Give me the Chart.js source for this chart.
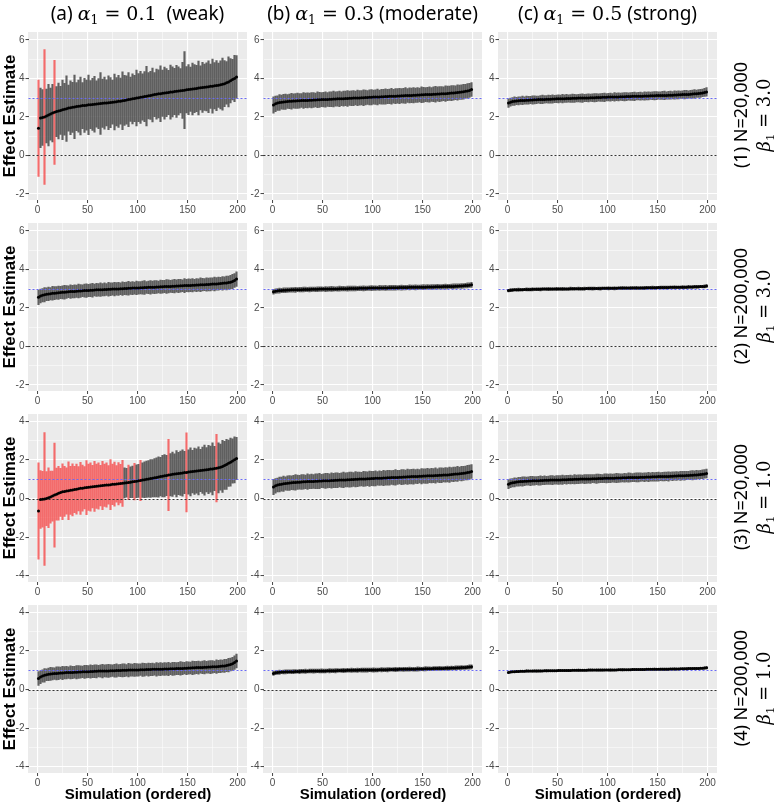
<!DOCTYPE html>
<html>
<head>
<meta charset="utf-8">
<script src="https://cdn.jsdelivr.net/npm/chart.js@4.4.1/dist/chart.umd.min.js"></script>
<style>
  body { margin: 0; background: #fff; width: 778px; height: 804px; position: relative; overflow: hidden; }
  canvas { position: absolute; }
  .colTitle { position: absolute; top: 0; height: 26px; line-height: 26px; text-align: center; font-family: "Noto Sans", sans-serif; font-size: 19px; color: #000; white-space: pre; }
  .math { font-family: "DejaVu Serif", serif; font-style: italic; }
  .num { font-family: "DejaVu Serif", serif; }
  sub { font-size: 0.65em; vertical-align: -0.3em; }
  .strip { position: absolute; width: 180px; height: 48px; text-align: center; font-family: "Noto Sans", sans-serif; font-size: 18px; line-height: 23px; color: #000; transform: rotate(-90deg); white-space: pre; }
</style>
</head>
<body>
<script>
// simulation index (every other simulation of the 200, ordered by estimate)
const simIdx = [1,3,5,7,9,11,13,15,17,19,21,23,25,27,29,31,33,35,37,39,41,43,45,47,49,51,53,55,57,59,61,63,65,67,69,71,73,75,77,79,81,83,85,87,89,91,93,95,97,99,101,103,105,107,109,111,113,115,117,119,121,123,125,127,129,131,133,135,137,139,141,143,145,147,149,151,153,155,157,159,161,163,165,167,169,171,173,175,177,179,181,183,185,187,189,191,193,195,197,199];

// facet labels
const colLetters = ['(a)', '(b)', '(c)'];
const alphaVals = ['0.1', '0.3', '0.5'];
const alphaWords = [' (weak)', '(moderate)', '(strong)'];
const sampleSizes = ['20,000', '200,000', '20,000', '200,000'];
const betaVals = ['3.0', '3.0', '1.0', '1.0'];
const truthVals = [3, 3, 1, 1];

// row 1: N=20,000, beta=3
const a1Est = [1.42,1.95,1.97,2.00,2.05,2.10,2.15,2.20,2.24,2.28,2.31,2.34,2.37,2.40,2.43,2.46,2.48,2.50,2.52,2.54,2.56,2.57,2.59,2.60,2.61,2.63,2.64,2.65,2.66,2.67,2.69,2.70,2.71,2.72,2.73,2.74,2.75,2.77,2.78,2.79,2.81,2.82,2.84,2.86,2.88,2.90,2.92,2.94,2.96,2.98,3.00,3.02,3.04,3.06,3.08,3.10,3.12,3.14,3.16,3.18,3.20,3.21,3.23,3.24,3.26,3.27,3.29,3.30,3.32,3.33,3.35,3.36,3.38,3.39,3.41,3.42,3.44,3.45,3.47,3.48,3.50,3.51,3.53,3.54,3.56,3.57,3.59,3.60,3.62,3.63,3.65,3.67,3.70,3.73,3.77,3.82,3.88,3.94,4.00,4.08];
const a1Hw = [2.50,1.55,1.45,3.50,1.40,1.60,1.35,1.50,2.70,1.30,1.45,1.25,1.55,1.35,1.70,1.20,1.40,1.30,1.65,1.25,1.35,1.50,1.20,1.40,1.30,1.55,1.25,1.35,1.45,1.20,1.30,1.60,1.25,1.35,1.20,1.40,1.30,1.15,1.45,1.25,1.35,1.20,1.50,1.30,1.25,1.40,1.15,1.30,1.20,1.45,1.25,1.35,1.20,1.30,1.55,1.20,1.25,1.40,1.15,1.30,1.25,1.45,1.20,1.35,1.25,1.15,1.40,1.30,1.20,1.35,1.25,1.15,1.45,2.00,1.20,1.30,1.15,1.35,1.25,1.20,1.40,1.15,1.30,1.20,1.25,1.35,1.15,1.40,1.20,1.30,1.15,1.25,1.35,1.20,1.10,1.30,1.15,1.05,1.20,1.10];
const b1Est = [2.62,2.68,2.72,2.75,2.77,2.78,2.79,2.80,2.81,2.82,2.83,2.83,2.84,2.84,2.85,2.85,2.86,2.86,2.87,2.87,2.88,2.88,2.89,2.89,2.90,2.90,2.91,2.91,2.92,2.92,2.93,2.93,2.94,2.94,2.95,2.95,2.96,2.96,2.97,2.97,2.98,2.98,2.99,2.99,3.00,3.00,3.01,3.01,3.02,3.02,3.03,3.03,3.04,3.04,3.05,3.05,3.06,3.06,3.07,3.07,3.08,3.08,3.09,3.09,3.10,3.10,3.11,3.11,3.12,3.12,3.13,3.13,3.14,3.14,3.15,3.15,3.16,3.16,3.17,3.17,3.18,3.18,3.19,3.19,3.20,3.20,3.21,3.22,3.23,3.24,3.25,3.26,3.27,3.28,3.29,3.31,3.33,3.35,3.38,3.43];
const b1Hw = [0.42,0.40,0.38,0.41,0.37,0.39,0.40,0.36,0.38,0.41,0.37,0.39,0.40,0.38,0.36,0.41,0.38,0.39,0.37,0.40,0.38,0.36,0.41,0.39,0.37,0.38,0.40,0.36,0.39,0.38,0.41,0.37,0.38,0.40,0.36,0.39,0.38,0.41,0.37,0.38,0.39,0.36,0.40,0.38,0.37,0.41,0.38,0.36,0.39,0.40,0.37,0.38,0.41,0.36,0.39,0.38,0.40,0.37,0.38,0.41,0.36,0.39,0.38,0.40,0.37,0.38,0.41,0.36,0.39,0.38,0.40,0.37,0.38,0.36,0.41,0.39,0.37,0.38,0.40,0.36,0.38,0.41,0.37,0.39,0.38,0.36,0.40,0.38,0.37,0.39,0.38,0.36,0.40,0.37,0.38,0.39,0.36,0.38,0.37,0.36];
const c1Est = [2.72,2.77,2.80,2.82,2.83,2.84,2.85,2.86,2.86,2.87,2.87,2.88,2.88,2.89,2.89,2.90,2.90,2.91,2.91,2.92,2.92,2.92,2.93,2.93,2.94,2.94,2.94,2.95,2.95,2.96,2.96,2.96,2.97,2.97,2.97,2.98,2.98,2.98,2.99,2.99,2.99,3.00,3.00,3.00,3.01,3.01,3.01,3.02,3.02,3.02,3.03,3.03,3.03,3.04,3.04,3.04,3.05,3.05,3.05,3.06,3.06,3.06,3.07,3.07,3.07,3.08,3.08,3.08,3.09,3.09,3.09,3.10,3.10,3.10,3.11,3.11,3.11,3.12,3.12,3.12,3.13,3.13,3.13,3.14,3.14,3.15,3.15,3.16,3.16,3.17,3.17,3.18,3.19,3.20,3.21,3.22,3.23,3.25,3.27,3.30];
const c1Hw = [0.22,0.21,0.20,0.22,0.19,0.21,0.20,0.22,0.19,0.21,0.20,0.19,0.22,0.21,0.20,0.19,0.21,0.22,0.20,0.19,0.21,0.20,0.22,0.19,0.20,0.21,0.19,0.22,0.20,0.21,0.19,0.20,0.22,0.21,0.19,0.20,0.21,0.22,0.19,0.20,0.21,0.19,0.20,0.22,0.21,0.19,0.20,0.21,0.22,0.19,0.20,0.21,0.19,0.22,0.20,0.21,0.19,0.20,0.22,0.21,0.19,0.20,0.21,0.22,0.19,0.20,0.21,0.19,0.22,0.20,0.21,0.19,0.20,0.22,0.21,0.19,0.20,0.21,0.22,0.19,0.20,0.21,0.19,0.22,0.20,0.21,0.19,0.20,0.22,0.21,0.19,0.20,0.21,0.22,0.19,0.20,0.21,0.20,0.21,0.22];

// row 2: N=200,000, beta=3
const a2Est = [2.55,2.62,2.66,2.69,2.71,2.73,2.74,2.76,2.77,2.78,2.79,2.80,2.81,2.82,2.83,2.84,2.85,2.85,2.86,2.87,2.88,2.88,2.89,2.90,2.90,2.91,2.92,2.92,2.93,2.94,2.94,2.95,2.95,2.96,2.96,2.97,2.97,2.98,2.98,2.99,2.99,3.00,3.00,3.01,3.01,3.02,3.02,3.03,3.03,3.04,3.04,3.05,3.05,3.06,3.06,3.07,3.07,3.08,3.08,3.09,3.09,3.10,3.10,3.11,3.11,3.12,3.12,3.13,3.13,3.14,3.14,3.15,3.15,3.16,3.16,3.17,3.17,3.18,3.18,3.19,3.19,3.20,3.21,3.21,3.22,3.22,3.23,3.24,3.24,3.25,3.26,3.27,3.28,3.29,3.30,3.32,3.34,3.37,3.42,3.50];
const a2Hw = [0.38,0.36,0.34,0.37,0.33,0.35,0.32,0.36,0.34,0.33,0.35,0.32,0.34,0.36,0.33,0.31,0.35,0.33,0.34,0.32,0.36,0.33,0.31,0.34,0.35,0.32,0.33,0.36,0.31,0.34,0.33,0.35,0.32,0.34,0.31,0.36,0.33,0.32,0.35,0.33,0.34,0.31,0.35,0.32,0.33,0.36,0.32,0.34,0.31,0.35,0.33,0.32,0.34,0.36,0.31,0.33,0.35,0.32,0.34,0.33,0.31,0.35,0.33,0.32,0.36,0.34,0.31,0.33,0.35,0.32,0.34,0.33,0.31,0.36,0.32,0.34,0.33,0.35,0.31,0.34,0.32,0.36,0.33,0.31,0.35,0.33,0.34,0.32,0.36,0.33,0.34,0.32,0.35,0.33,0.36,0.34,0.35,0.37,0.36,0.38];
const b2Est = [2.84,2.87,2.89,2.90,2.91,2.92,2.92,2.93,2.93,2.94,2.94,2.94,2.95,2.95,2.95,2.96,2.96,2.96,2.96,2.97,2.97,2.97,2.97,2.98,2.98,2.98,2.98,2.98,2.99,2.99,2.99,2.99,2.99,3.00,3.00,3.00,3.00,3.00,3.01,3.01,3.01,3.01,3.01,3.02,3.02,3.02,3.02,3.02,3.03,3.03,3.03,3.03,3.03,3.04,3.04,3.04,3.04,3.04,3.05,3.05,3.05,3.05,3.05,3.06,3.06,3.06,3.06,3.06,3.07,3.07,3.07,3.07,3.07,3.08,3.08,3.08,3.08,3.09,3.09,3.09,3.09,3.10,3.10,3.10,3.10,3.11,3.11,3.11,3.12,3.12,3.12,3.13,3.13,3.14,3.14,3.15,3.16,3.17,3.18,3.20];
const b2Hw = [0.13,0.12,0.12,0.13,0.11,0.12,0.13,0.12,0.11,0.12,0.12,0.13,0.11,0.12,0.12,0.13,0.12,0.11,0.13,0.12,0.11,0.12,0.13,0.12,0.12,0.11,0.13,0.12,0.12,0.13,0.12,0.11,0.12,0.13,0.12,0.12,0.11,0.13,0.12,0.12,0.13,0.12,0.11,0.12,0.12,0.13,0.12,0.11,0.12,0.13,0.12,0.12,0.11,0.13,0.12,0.12,0.13,0.11,0.12,0.12,0.13,0.12,0.11,0.12,0.13,0.12,0.12,0.11,0.13,0.12,0.12,0.13,0.12,0.11,0.12,0.13,0.12,0.12,0.11,0.13,0.12,0.12,0.13,0.11,0.12,0.12,0.13,0.12,0.11,0.12,0.13,0.12,0.12,0.11,0.13,0.12,0.12,0.13,0.12,0.13];
const c2Est = [2.90,2.92,2.93,2.94,2.94,2.95,2.95,2.95,2.96,2.96,2.96,2.96,2.97,2.97,2.97,2.97,2.97,2.98,2.98,2.98,2.98,2.98,2.98,2.98,2.99,2.99,2.99,2.99,2.99,2.99,2.99,3.00,3.00,3.00,3.00,3.00,3.00,3.00,3.00,3.01,3.01,3.01,3.01,3.01,3.01,3.01,3.01,3.02,3.02,3.02,3.02,3.02,3.02,3.02,3.02,3.03,3.03,3.03,3.03,3.03,3.03,3.03,3.04,3.04,3.04,3.04,3.04,3.04,3.04,3.05,3.05,3.05,3.05,3.05,3.05,3.06,3.06,3.06,3.06,3.06,3.06,3.07,3.07,3.07,3.07,3.07,3.08,3.08,3.08,3.08,3.09,3.09,3.09,3.10,3.10,3.10,3.11,3.11,3.12,3.14];
const c2Hw = [0.07,0.08,0.07,0.06,0.07,0.08,0.07,0.07,0.06,0.08,0.07,0.07,0.08,0.06,0.07,0.07,0.08,0.07,0.06,0.07,0.08,0.07,0.07,0.06,0.08,0.07,0.07,0.08,0.07,0.06,0.07,0.08,0.07,0.07,0.06,0.08,0.07,0.07,0.08,0.06,0.07,0.07,0.08,0.07,0.06,0.07,0.08,0.07,0.07,0.06,0.08,0.07,0.07,0.08,0.07,0.06,0.07,0.08,0.07,0.07,0.06,0.08,0.07,0.07,0.08,0.06,0.07,0.07,0.08,0.07,0.06,0.07,0.08,0.07,0.07,0.06,0.08,0.07,0.07,0.08,0.07,0.06,0.07,0.08,0.07,0.07,0.06,0.08,0.07,0.07,0.08,0.06,0.07,0.07,0.08,0.07,0.06,0.07,0.08,0.08];

// row 3: N=20,000, beta=1
const a3Est = [-0.64,-0.05,-0.03,-0.02,0.00,0.04,0.08,0.13,0.18,0.23,0.28,0.32,0.35,0.37,0.39,0.41,0.43,0.45,0.47,0.49,0.51,0.53,0.54,0.56,0.57,0.59,0.60,0.62,0.63,0.64,0.65,0.67,0.68,0.69,0.70,0.71,0.72,0.74,0.75,0.76,0.77,0.78,0.79,0.81,0.82,0.84,0.85,0.87,0.88,0.90,0.92,0.94,0.96,0.98,1.00,1.02,1.04,1.06,1.08,1.10,1.12,1.14,1.16,1.18,1.20,1.22,1.24,1.26,1.27,1.29,1.30,1.32,1.33,1.35,1.36,1.38,1.39,1.40,1.42,1.43,1.44,1.46,1.47,1.48,1.50,1.51,1.53,1.54,1.56,1.58,1.60,1.63,1.67,1.72,1.77,1.83,1.89,1.95,2.01,2.08];
const a3Hw = [2.50,1.50,1.45,3.45,1.40,1.55,1.35,1.30,2.70,1.35,1.40,1.25,1.45,1.30,1.20,1.50,1.25,1.35,1.20,1.30,1.15,1.35,1.20,1.10,1.40,1.20,1.25,1.10,1.30,1.15,1.20,1.05,1.25,1.10,1.15,1.00,1.30,1.05,1.15,0.95,1.10,1.00,1.20,0.78,0.75,0.90,0.80,0.82,0.95,0.85,0.86,1.05,0.90,0.93,0.94,0.95,0.98,0.97,1.00,1.02,1.05,1.00,1.08,1.10,1.05,1.85,1.10,1.15,1.05,1.20,1.10,1.15,1.20,1.10,2.05,1.15,1.25,1.10,1.20,1.15,1.25,1.10,1.20,1.30,1.15,1.25,1.20,1.35,1.15,1.75,1.30,1.20,1.35,1.25,1.30,1.20,1.25,1.15,1.20,1.10];
const b3Est = [0.60,0.66,0.70,0.73,0.75,0.77,0.78,0.80,0.81,0.82,0.83,0.84,0.85,0.85,0.86,0.87,0.87,0.88,0.88,0.89,0.89,0.90,0.90,0.91,0.91,0.92,0.92,0.93,0.93,0.94,0.94,0.95,0.95,0.96,0.96,0.97,0.97,0.98,0.98,0.99,0.99,1.00,1.00,1.01,1.01,1.02,1.02,1.03,1.03,1.04,1.04,1.05,1.05,1.06,1.06,1.07,1.07,1.08,1.08,1.09,1.09,1.10,1.10,1.11,1.11,1.12,1.12,1.13,1.13,1.14,1.14,1.15,1.15,1.16,1.16,1.17,1.17,1.18,1.18,1.19,1.19,1.20,1.20,1.21,1.21,1.22,1.23,1.23,1.24,1.25,1.26,1.27,1.28,1.29,1.30,1.31,1.33,1.35,1.37,1.41];
const b3Hw = [0.40,0.38,0.36,0.39,0.37,0.40,0.35,0.38,0.39,0.36,0.38,0.40,0.37,0.36,0.39,0.38,0.35,0.40,0.37,0.38,0.36,0.39,0.38,0.40,0.35,0.37,0.39,0.38,0.36,0.40,0.37,0.38,0.39,0.35,0.38,0.40,0.36,0.37,0.39,0.38,0.36,0.40,0.38,0.37,0.35,0.39,0.38,0.36,0.40,0.37,0.38,0.39,0.35,0.38,0.36,0.40,0.37,0.39,0.38,0.36,0.38,0.40,0.37,0.35,0.39,0.38,0.36,0.40,0.37,0.38,0.39,0.36,0.38,0.35,0.40,0.37,0.38,0.39,0.36,0.38,0.37,0.40,0.35,0.38,0.39,0.36,0.38,0.37,0.40,0.36,0.38,0.37,0.39,0.35,0.38,0.37,0.36,0.38,0.37,0.36];
const c3Est = [0.75,0.79,0.82,0.84,0.86,0.87,0.88,0.89,0.90,0.90,0.91,0.91,0.92,0.92,0.93,0.93,0.94,0.94,0.95,0.95,0.95,0.96,0.96,0.96,0.97,0.97,0.97,0.98,0.98,0.98,0.99,0.99,0.99,1.00,1.00,1.00,1.01,1.01,1.01,1.02,1.02,1.02,1.03,1.03,1.03,1.04,1.04,1.04,1.05,1.05,1.05,1.06,1.06,1.06,1.07,1.07,1.07,1.08,1.08,1.08,1.09,1.09,1.09,1.10,1.10,1.10,1.11,1.11,1.11,1.12,1.12,1.12,1.13,1.13,1.13,1.14,1.14,1.14,1.15,1.15,1.15,1.16,1.16,1.17,1.17,1.18,1.18,1.19,1.19,1.20,1.20,1.21,1.21,1.22,1.23,1.24,1.25,1.26,1.28,1.30];
const c3Hw = [0.24,0.23,0.22,0.24,0.21,0.23,0.22,0.24,0.23,0.21,0.22,0.24,0.23,0.22,0.21,0.23,0.24,0.22,0.23,0.21,0.22,0.23,0.24,0.21,0.22,0.23,0.22,0.24,0.21,0.23,0.22,0.23,0.21,0.24,0.22,0.23,0.22,0.21,0.24,0.23,0.22,0.23,0.21,0.22,0.24,0.23,0.22,0.21,0.23,0.24,0.22,0.23,0.21,0.22,0.24,0.23,0.22,0.21,0.23,0.22,0.24,0.23,0.21,0.22,0.23,0.24,0.22,0.21,0.23,0.22,0.24,0.21,0.23,0.22,0.23,0.24,0.21,0.22,0.23,0.22,0.24,0.21,0.23,0.22,0.23,0.21,0.24,0.22,0.23,0.22,0.21,0.23,0.24,0.22,0.23,0.21,0.22,0.23,0.22,0.23];

// row 4: N=200,000, beta=1
const a4Est = [0.58,0.65,0.70,0.74,0.77,0.79,0.81,0.82,0.83,0.84,0.85,0.86,0.86,0.87,0.88,0.88,0.89,0.89,0.90,0.90,0.91,0.91,0.92,0.92,0.93,0.93,0.94,0.94,0.95,0.95,0.96,0.96,0.96,0.97,0.97,0.97,0.98,0.98,0.98,0.99,0.99,0.99,1.00,1.00,1.00,1.01,1.01,1.01,1.02,1.02,1.02,1.03,1.03,1.03,1.04,1.04,1.04,1.05,1.05,1.05,1.06,1.06,1.06,1.07,1.07,1.07,1.08,1.08,1.08,1.09,1.09,1.10,1.10,1.11,1.11,1.12,1.12,1.13,1.13,1.14,1.14,1.15,1.15,1.16,1.16,1.17,1.17,1.18,1.18,1.19,1.20,1.21,1.22,1.23,1.25,1.27,1.30,1.34,1.40,1.48];
const a4Hw = [0.36,0.34,0.32,0.35,0.31,0.33,0.34,0.32,0.30,0.34,0.33,0.31,0.35,0.32,0.33,0.30,0.34,0.32,0.31,0.35,0.33,0.32,0.30,0.34,0.33,0.31,0.35,0.32,0.33,0.34,0.30,0.32,0.35,0.31,0.33,0.34,0.32,0.30,0.33,0.35,0.31,0.32,0.34,0.33,0.30,0.35,0.32,0.31,0.34,0.33,0.32,0.30,0.35,0.33,0.31,0.34,0.32,0.33,0.30,0.35,0.32,0.34,0.31,0.33,0.32,0.35,0.30,0.34,0.33,0.31,0.32,0.35,0.33,0.30,0.34,0.32,0.31,0.35,0.33,0.32,0.34,0.30,0.33,0.35,0.31,0.32,0.34,0.33,0.30,0.35,0.32,0.33,0.31,0.34,0.32,0.35,0.33,0.34,0.35,0.36];
const b4Est = [0.84,0.87,0.89,0.90,0.91,0.91,0.92,0.92,0.93,0.93,0.93,0.94,0.94,0.94,0.95,0.95,0.95,0.95,0.96,0.96,0.96,0.96,0.97,0.97,0.97,0.97,0.97,0.98,0.98,0.98,0.98,0.98,0.99,0.99,0.99,0.99,0.99,1.00,1.00,1.00,1.00,1.00,1.00,1.01,1.01,1.01,1.01,1.01,1.02,1.02,1.02,1.02,1.02,1.03,1.03,1.03,1.03,1.03,1.04,1.04,1.04,1.04,1.04,1.05,1.05,1.05,1.05,1.05,1.06,1.06,1.06,1.06,1.07,1.07,1.07,1.07,1.08,1.08,1.08,1.08,1.09,1.09,1.09,1.10,1.10,1.10,1.11,1.11,1.11,1.12,1.12,1.12,1.13,1.13,1.14,1.14,1.15,1.16,1.17,1.18];
const b4Hw = [0.11,0.10,0.10,0.11,0.09,0.10,0.11,0.10,0.09,0.10,0.11,0.10,0.09,0.11,0.10,0.10,0.11,0.09,0.10,0.10,0.11,0.10,0.09,0.10,0.11,0.10,0.10,0.09,0.11,0.10,0.10,0.11,0.10,0.09,0.10,0.11,0.10,0.10,0.09,0.11,0.10,0.10,0.11,0.09,0.10,0.10,0.11,0.10,0.09,0.10,0.11,0.10,0.10,0.09,0.11,0.10,0.10,0.11,0.10,0.09,0.10,0.11,0.10,0.10,0.09,0.11,0.10,0.10,0.11,0.09,0.10,0.10,0.11,0.10,0.09,0.10,0.11,0.10,0.10,0.09,0.11,0.10,0.10,0.11,0.10,0.09,0.10,0.11,0.10,0.10,0.09,0.11,0.10,0.10,0.11,0.09,0.10,0.10,0.11,0.11];
const c4Est = [0.89,0.91,0.92,0.93,0.94,0.94,0.95,0.95,0.95,0.96,0.96,0.96,0.96,0.97,0.97,0.97,0.97,0.97,0.98,0.98,0.98,0.98,0.98,0.98,0.98,0.99,0.99,0.99,0.99,0.99,0.99,0.99,1.00,1.00,1.00,1.00,1.00,1.00,1.00,1.00,1.01,1.01,1.01,1.01,1.01,1.01,1.01,1.01,1.02,1.02,1.02,1.02,1.02,1.02,1.02,1.03,1.03,1.03,1.03,1.03,1.03,1.03,1.04,1.04,1.04,1.04,1.04,1.04,1.04,1.05,1.05,1.05,1.05,1.05,1.05,1.06,1.06,1.06,1.06,1.06,1.06,1.07,1.07,1.07,1.07,1.07,1.08,1.08,1.08,1.08,1.09,1.09,1.09,1.10,1.10,1.10,1.11,1.11,1.12,1.13];
const c4Hw = [0.05,0.05,0.04,0.05,0.06,0.05,0.04,0.05,0.05,0.06,0.05,0.04,0.05,0.05,0.06,0.05,0.05,0.04,0.05,0.06,0.05,0.05,0.04,0.05,0.05,0.06,0.05,0.04,0.05,0.05,0.06,0.05,0.05,0.04,0.05,0.06,0.05,0.05,0.04,0.05,0.05,0.06,0.05,0.04,0.05,0.05,0.06,0.05,0.05,0.04,0.05,0.06,0.05,0.05,0.04,0.05,0.05,0.06,0.05,0.04,0.05,0.05,0.06,0.05,0.05,0.04,0.05,0.06,0.05,0.05,0.04,0.05,0.05,0.06,0.05,0.04,0.05,0.05,0.06,0.05,0.05,0.04,0.05,0.06,0.05,0.05,0.04,0.05,0.05,0.06,0.05,0.04,0.05,0.05,0.06,0.05,0.05,0.05,0.06,0.06];

const estRows = [[a1Est, b1Est, c1Est], [a2Est, b2Est, c2Est], [a3Est, b3Est, c3Est], [a4Est, b4Est, c4Est]];
const hwRows = [[a1Hw, b1Hw, c1Hw], [a2Hw, b2Hw, c2Hw], [a3Hw, b3Hw, c3Hw], [a4Hw, b4Hw, c4Hw]];

// layout
const colLeft = [28, 263, 498];
const rowTop = [29, 220, 411, 602];
const panelW = 219, panelH = 171;
const padTop = 4, padRight = 6;
const yLimits = [[-2.31, 6.41], [-2.31, 6.41], [-4.33, 4.39], [-4.33, 4.39]];
const xLimits = [-9, 210];

const RED = 'rgba(245,75,75,0.8)';
const GREY = 'rgba(70,70,70,0.85)';
const tickFont = { family: 'Liberation Sans', size: 10 };

const panelBg = {
    id: 'panelBg',
    beforeDraw(chart) {
        const { ctx, chartArea: a } = chart;
        ctx.save();
        ctx.fillStyle = '#EBEBEB';
        ctx.fillRect(Math.floor(a.left), a.top, Math.ceil(a.right - a.left), a.bottom - a.top);
        ctx.restore();
    }
};

// dashed reference lines at 0 and at the true effect
const refLines = {
    id: 'refLines',
    afterDatasetDraw(chart, args) {
        if (args.index !== 1) return;
        const { ctx, chartArea: a, scales } = chart;
        const truth = chart.options.plugins.refLines.truth;
        const draw = (val, color, dash) => {
            const y = Math.round(scales.y.getPixelForValue(val)) + 0.5;
            ctx.save();
            ctx.strokeStyle = color;
            ctx.lineWidth = 1;
            ctx.setLineDash(dash);
            ctx.beginPath();
            ctx.moveTo(a.left, y);
            ctx.lineTo(a.right, y);
            ctx.stroke();
            ctx.restore();
        };
        draw(0, '#333333', [2, 2]);
        draw(truth, '#6A6AF5', [2, 2]);
    }
};

function makePanel(r, c) {
    const est = estRows[r][c];
    const hw = hwRows[r][c];
    const bars = simIdx.map((s, i) => ({ x: s, y: [est[i] - hw[i], est[i] + hw[i]] }));
    const barColors = bars.map(b => b.y[0] <= 0 ? RED : GREY);
    const points = simIdx.map((s, i) => ({ x: s, y: est[i] }));

    const yAxisW = c === 0 ? 28 : 26;
    const xAxisH = r === 3 ? 31 : 18;
    const cv = document.createElement('canvas');
    cv.width = yAxisW + panelW + padRight + 1;
    cv.height = padTop + panelH + xAxisH;
    cv.style.left = (colLeft[c] - yAxisW) + 'px';
    cv.style.top = (rowTop[r] - padTop) + 'px';
    document.body.appendChild(cv);

    new Chart(cv, {
        type: 'bar',
        data: {
            datasets: [
                { type: 'scatter', data: points, pointRadius: 1.5, pointBorderWidth: 0, pointBackgroundColor: '#000', order: 1 },
                { type: 'bar', data: bars, backgroundColor: barColors, borderWidth: 0, barThickness: 1.5, order: 2 }
            ]
        },
        options: {
            responsive: false,
            animation: false,
            devicePixelRatio: 1,
            // half-pixel shift so the thin bars land on pixel centres
            layout: { padding: { top: padTop, right: padRight + 0.5, left: 0.5, bottom: 0 } },
            plugins: {
                legend: { display: false },
                tooltip: { enabled: false },
                refLines: { truth: truthVals[r] }
            },
            scales: {
                x: {
                    type: 'linear',
                    min: xLimits[0],
                    max: xLimits[1],
                    offset: false,
                    border: { display: false },
                    grid: {
                        offset: false,
                        color: '#FFFFFF',
                        lineWidth: ctx => ctx.tick && ctx.tick.value % 50 === 0 ? 1.1 : 0.5,
                        tickLength: 3,
                        tickWidth: 1,
                        tickColor: ctx => ctx.tick && ctx.tick.value % 50 === 0 ? '#444' : 'rgba(0,0,0,0)'
                    },
                    ticks: {
                        stepSize: 25,
                        includeBounds: false,
                        autoSkip: false,
                        maxRotation: 0,
                        padding: 1,
                        color: '#4D4D4D',
                        font: tickFont,
                        callback: v => v % 50 === 0 ? String(v) : ''
                    },
                    title: {
                        display: r === 3,
                        text: 'Simulation (ordered)',
                        color: '#000',
                        padding: 0,
                        font: { family: 'Liberation Sans', size: 15, weight: 'bold', lineHeight: 1.2 }
                    },
                    afterFit: s => { s.height = xAxisH; }
                },
                y: {
                    min: yLimits[r][0],
                    max: yLimits[r][1],
                    border: { display: false },
                    grid: {
                        color: '#FFFFFF',
                        lineWidth: ctx => ctx.tick && ctx.tick.value % 2 === 0 ? 1.1 : 0.5,
                        tickLength: 3,
                        tickWidth: 1,
                        tickColor: ctx => ctx.tick && ctx.tick.value % 2 === 0 ? '#444' : 'rgba(0,0,0,0)'
                    },
                    ticks: {
                        stepSize: 1,
                        includeBounds: false,
                        padding: 1,
                        color: '#4D4D4D',
                        font: tickFont,
                        callback: v => v % 2 === 0 ? String(v) : ''
                    },
                    title: {
                        display: c === 0,
                        text: 'Effect Estimate',
                        color: '#000',
                        padding: 0,
                        font: { family: 'Liberation Sans', size: 17, weight: 'bold', lineHeight: 1.2 }
                    },
                    afterFit: s => { s.width = yAxisW; }
                }
            }
        },
        plugins: [panelBg, refLines]
    });
}

for (let r = 0; r < 4; r++) {
    for (let c = 0; c < 3; c++) makePanel(r, c);
}

// column titles
colLetters.forEach((letter, c) => {
    const d = document.createElement('div');
    d.className = 'colTitle';
    d.style.left = colLeft[c] + 'px';
    d.style.width = panelW + 'px';
    d.innerHTML = letter + ' <span class="math">α</span><sub class="num">1</sub><span class="num"> = ' + alphaVals[c] + '</span> ' + alphaWords[c];
    document.body.appendChild(d);
});

// row strip labels
sampleSizes.forEach((n, r) => {
    const d = document.createElement('div');
    d.className = 'strip';
    const cy = rowTop[r] + panelH / 2;
    d.style.left = (753 - 90) + 'px';
    d.style.top = (cy - 24) + 'px';
    d.innerHTML = '(' + (r + 1) + ') N=' + n + '\n<span class="math">β</span><sub class="num">1</sub><span class="num"> = ' + betaVals[r] + '</span>';
    document.body.appendChild(d);
});
</script>
</body>
</html>
